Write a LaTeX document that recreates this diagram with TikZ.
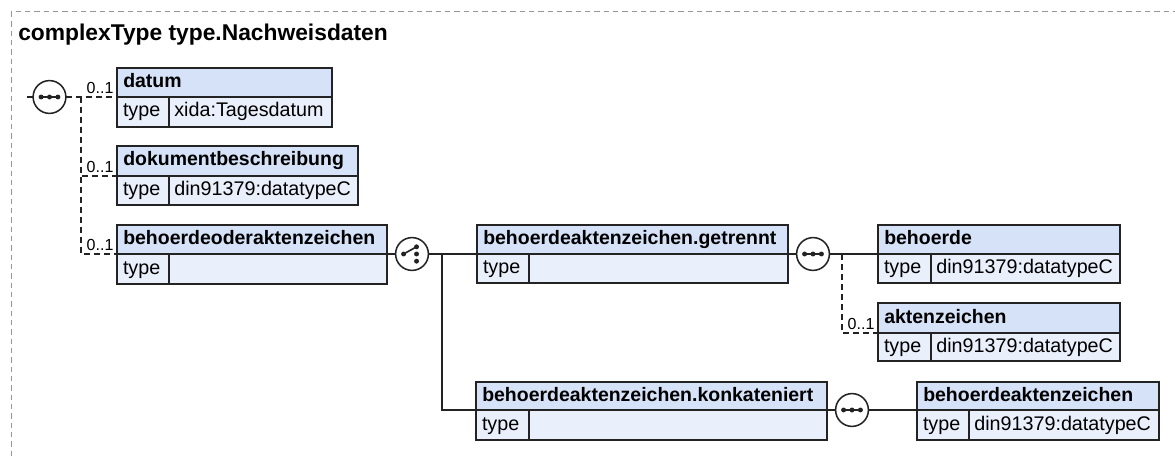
\documentclass[tikz,border=0pt]{standalone}
\usepackage{fontspec}
\setmainfont{Liberation Sans}
\definecolor{hdrfill}{RGB}{214,226,247}
\definecolor{bodyfill}{RGB}{234,240,251}
\definecolor{framegray}{RGB}{150,150,150}
\definecolor{ink}{RGB}{35,35,35}
\tikzset{
  cellbox/.style={draw=ink, line width=1.15pt, inner sep=0pt, outer sep=0pt, rectangle},
  hdrtxt/.style={inner sep=0pt, text height=10.5pt, text depth=3pt, font=\fontsize{14.6}{17}\selectfont\bfseries},
  bodytxt/.style={inner sep=0pt, text height=10.5pt, text depth=3pt, font=\fontsize{14.8}{17}\selectfont},
  conn/.style={draw=ink, line width=1.15pt},
  optconn/.style={conn, dash pattern=on 4.5pt off 3pt},
  compositor/.style={circle, draw=ink, line width=1.15pt, fill=white, minimum size=24.6pt, inner sep=0pt, outer sep=0pt},
  occ/.style={inner sep=0pt, font=\fontsize{12}{14}\selectfont, anchor=base east},
  framebox/.style={draw=framegray, line width=0.75pt, dash pattern=on 4pt off 3pt},
  dotfill/.style={fill=ink},
}
\newcommand\xsdelem[9]{%
  \pgfmathsetmacro\ew{(#4-#2)*0.75}%
  \pgfmathsetmacro\eh{(#5-#3)*0.75}%
  \pgfmathsetmacro\bh{(#6-#5)*0.75}%
  \pgfmathsetmacro\tw{(#7-#2)*0.75}%
  \pgfmathsetmacro\vw{(#4-#7)*0.75}%
  \node[cellbox, fill=hdrfill, minimum width=\ew pt, minimum height=\eh pt, anchor=north west] (#1) at (#2,#3) {};
  \node[hdrtxt, anchor=west] (#1-name) at ([xshift=4.5pt]#1.west) {#8};
  \node[cellbox, fill=bodyfill, minimum width=\tw pt, minimum height=\bh pt, anchor=north west] (#1-tk) at (#1.south west) {};
  \node[cellbox, fill=bodyfill, minimum width=\vw pt, minimum height=\bh pt, anchor=north west] (#1-tv) at (#1-tk.north east) {};
  \node[bodytxt, anchor=west] (#1-type) at ([xshift=4.3pt]#1-tk.west) {type};
  \node[bodytxt, anchor=west] (#1-val) at ([xshift=3.8pt]#1-tv.west) {#9};
}
\newcommand\seqicon[1]{%
  \draw[ink, line width=1.1pt] ([xshift=-6.3pt]#1.center) -- ([xshift=6.3pt]#1.center);
  \fill[dotfill] ([xshift=-6.3pt]#1.center) circle (1.85pt);
  \fill[dotfill] (#1.center) circle (1.85pt);
  \fill[dotfill] ([xshift=6.3pt]#1.center) circle (1.85pt);
}
\newcommand\choiceicon[1]{%
  \draw[ink, line width=1.2pt] ([xshift=-6.3pt]#1.center) -- ([xshift=3.4pt,yshift=5.4pt]#1.center);
  \fill[dotfill] ([xshift=-6.3pt]#1.center) circle (1.85pt);
  \fill[dotfill] ([xshift=3.4pt,yshift=5.4pt]#1.center) circle (1.85pt);
  \fill[dotfill] ([xshift=3.4pt]#1.center) circle (1.85pt);
  \fill[dotfill] ([xshift=3.4pt,yshift=-5.4pt]#1.center) circle (1.85pt);
}
\begin{document}
\begin{tikzpicture}[x=0.75pt,y=-0.75pt]
\clip (0,0) rectangle (1175,456);
\fill[white] (0,0) rectangle (1175,456);
\draw[framebox] (11,12) rectangle (1200,480);
\node[anchor=base west, inner sep=0pt, font=\fontsize{17.1}{20}\selectfont\bfseries] (title) at (18,41) {complexType type.Nachweisdaten};

% elements
\xsdelem{datum}{117}{68}{332}{97}{127}{169}{datum}{xida:Tagesdatum}
\xsdelem{dok}{117}{146}{358}{176}{205}{169}{dokumentbeschreibung}{din91379:datatypeC}
\xsdelem{bod}{117}{225}{387}{254}{284}{169}{behoerdeoderaktenzeichen}{}
\xsdelem{get}{477}{225}{788}{254}{283}{529}{behoerdeaktenzeichen.getrennt}{}
\xsdelem{beh}{878}{225}{1120}{254}{283}{931}{behoerde}{din91379:datatypeC}
\xsdelem{akt}{878}{303}{1120}{333}{361}{931}{aktenzeichen}{din91379:datatypeC}
\xsdelem{konk}{476}{382}{827}{410}{440}{529}{behoerdeaktenzeichen.konkateniert}{}
\xsdelem{bak}{917}{382}{1159}{410}{440}{969}{behoerdeaktenzeichen}{din91379:datatypeC}

% compositors
\coordinate (in1) at (27,97);
\node[compositor] (s1) at (49.5,97) {};
\node[compositor] (c1) at (412,254) {};
\node[compositor] (s2) at (813,254) {};
\node[compositor] (s3) at (852,410) {};

\coordinate (j1) at (81,97);
\coordinate (j2) at (442,254);
\coordinate (j3) at (842,254);

% connectors
\draw[conn] (in1) -- (s1.west);
\draw[optconn] (s1.east) -- (datum.south west);
\draw[optconn] (j1) |- (dok.south west);
\draw[optconn] (j1) |- (bod.south west);
\draw[conn] (bod.south east) -- (c1.west);
\draw[conn] (c1.east) -- (get.south west);
\draw[conn] (j2) |- (konk.south west);
\draw[conn] (get.south east) -- (s2.west);
\draw[conn] (s2.east) -- (beh.south west);
\draw[optconn] (j3) |- (akt.south west);
\draw[conn] (konk.south east) -- (s3.west);
\draw[conn] (s3.east) -- (bak.south west);

\node[occ] (o1) at ([xshift=-2.5pt,yshift=2.5pt]datum.south west) {0..1};
\node[occ] (o2) at ([xshift=-2.5pt,yshift=2.5pt]dok.south west) {0..1};
\node[occ] (o3) at ([xshift=-2.5pt,yshift=2.5pt]bod.south west) {0..1};
\node[occ] (o4) at ([xshift=-2.5pt,yshift=2.5pt]akt.south west) {0..1};

\seqicon{s1}
\seqicon{s2}
\seqicon{s3}
\choiceicon{c1}
\end{tikzpicture}
\end{document}
